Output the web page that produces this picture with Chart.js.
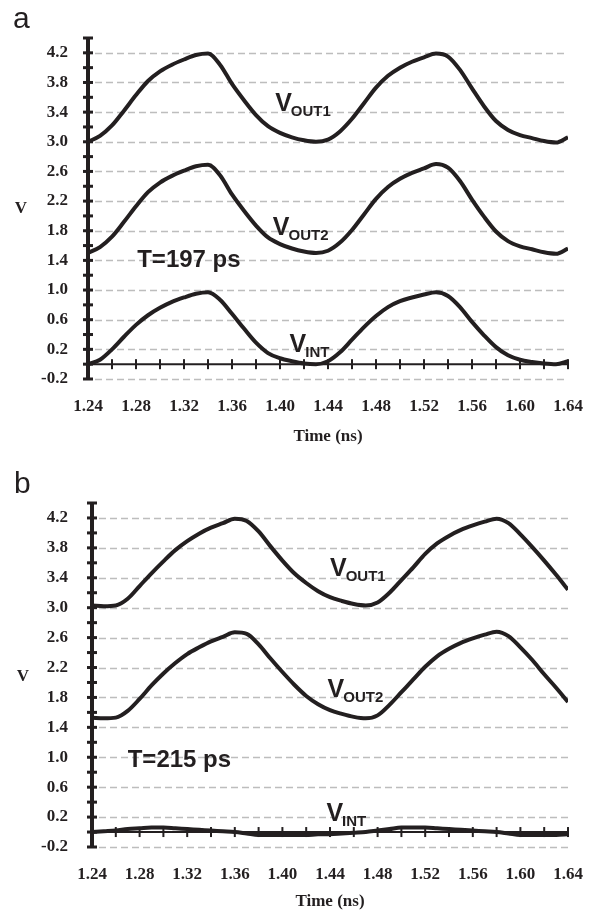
<!DOCTYPE html>
<html>
<head>
<meta charset="utf-8">
<script src="https://cdn.jsdelivr.net/npm/chart.js@4.4.0/dist/chart.umd.min.js"></script>
<style>
  html, body { margin: 0; padding: 0; background: #fff; }
  #wrap { position: relative; width: 596px; height: 913px; }
  canvas { position: absolute; left: 0; }
</style>
</head>
<body>
<div id="wrap">
  <canvas id="chartA" width="596" height="456" style="top:0"></canvas>
  <canvas id="chartB" width="596" height="457" style="top:456px"></canvas>
</div>
<script>
// time axis (ns), read every 0.01 ns
const tA = [1.24,1.25,1.26,1.27,1.28,1.29,1.30,1.31,1.32,1.33,1.34,1.35,1.36,1.37,1.38,1.39,1.40,1.41,1.42,1.43,1.44,
            1.45,1.46,1.47,1.48,1.49,1.50,1.51,1.52,1.53,1.54,1.55,1.56,1.57,1.58,1.59,1.60,1.61,1.62,1.63,1.64];
const tB = tA.slice();

// panel a, T = 197 ps
const vOut1A = [3.00,3.08,3.22,3.42,3.63,3.82,3.95,4.04,4.11,4.17,4.19,4.04,3.78,3.56,3.36,3.21,3.12,3.06,3.02,3.00,3.03,
                3.14,3.31,3.52,3.73,3.89,4.00,4.08,4.14,4.19,4.15,3.97,3.72,3.48,3.28,3.16,3.09,3.05,3.01,2.99,3.06];
const vOut2A = [1.50,1.58,1.72,1.92,2.13,2.32,2.45,2.54,2.61,2.67,2.69,2.55,2.29,2.07,1.87,1.71,1.62,1.56,1.52,1.50,1.53,
                1.64,1.81,2.02,2.23,2.39,2.50,2.58,2.64,2.70,2.65,2.47,2.22,1.99,1.79,1.66,1.59,1.55,1.51,1.49,1.56];
const vIntA  = [0.00,0.06,0.20,0.37,0.53,0.66,0.76,0.84,0.90,0.95,0.97,0.87,0.68,0.48,0.29,0.15,0.08,0.04,0.01,0.00,0.04,
                0.16,0.33,0.50,0.65,0.77,0.85,0.90,0.94,0.97,0.92,0.77,0.57,0.39,0.23,0.12,0.06,0.03,0.01,0.00,0.04];

// panel b, T = 215 ps
const vOut1B = [3.03,3.02,3.03,3.12,3.29,3.46,3.62,3.77,3.89,3.99,4.07,4.13,4.19,4.16,4.02,3.82,3.63,3.46,3.33,3.22,3.14,
                3.09,3.05,3.03,3.07,3.20,3.37,3.54,3.72,3.86,3.96,4.04,4.10,4.15,4.19,4.13,3.98,3.81,3.63,3.44,3.24];
const vOut2B = [1.53,1.52,1.53,1.62,1.78,1.96,2.12,2.26,2.38,2.47,2.55,2.61,2.67,2.65,2.51,2.32,2.14,1.97,1.82,1.71,1.63,
                1.58,1.54,1.52,1.56,1.70,1.87,2.04,2.21,2.35,2.45,2.53,2.59,2.64,2.68,2.62,2.47,2.30,2.11,1.93,1.74];
const vIntB  = [0.00,0.01,0.02,0.04,0.05,0.06,0.06,0.05,0.04,0.03,0.02,0.01,0.00,-0.02,-0.04,-0.04,-0.04,-0.04,-0.04,-0.03,-0.03,
                -0.02,-0.01,0.00,0.02,0.04,0.06,0.06,0.06,0.05,0.04,0.03,0.02,0.01,0.00,-0.02,-0.04,-0.04,-0.04,-0.04,-0.03];

const seriesNames = ['OUT1', 'OUT2', 'INT'];
const periodA = 'T=197 ps';
const periodB = 'T=215 ps';

const INK = '#231f20';
Chart.defaults.font.family = '"Liberation Serif", "Times New Roman", serif';

function pts(t, v) {
  return t.map((x, i) => ({ x: x, y: v[i] }));
}

function isLabelV(v) {
  const k = Math.round((v + 0.2) / 0.2);
  return k % 2 === 0 && v < 4.3;
}

// draws the scope-style axes (dashed grid, thick y axis, x axis at V=0) and the text labels
const scopeAxes = {
  id: 'scopeAxes',
  beforeDatasetsDraw(chart, args, opts) {
    const { ctx, chartArea, scales: { x, y } } = chart;
    const ax = chartArea.left;
    ctx.save();
    // dashed grid, starts a little right of the axis
    ctx.strokeStyle = '#bdbdbd';
    ctx.lineWidth = 1.5;
    ctx.setLineDash([7, 4]);
    y.ticks.forEach(t => {
      if (!isLabelV(t.value)) return;
      const py = Math.round(y.getPixelForValue(t.value)) + 0.5;
      ctx.beginPath();
      ctx.moveTo(ax + 7, py);
      ctx.lineTo(chartArea.right, py);
      ctx.stroke();
    });
    ctx.setLineDash([]);
    ctx.fillStyle = INK;
    ctx.strokeStyle = INK;
    ctx.lineWidth = 4;
    ctx.beginPath();
    ctx.moveTo(ax, y.getPixelForValue(y.max));
    ctx.lineTo(ax, y.getPixelForValue(y.min));
    ctx.stroke();
    y.ticks.forEach(t => {
      const py = y.getPixelForValue(t.value);
      ctx.fillRect(ax - 5, py - 1.5, 10, 3);
    });
    const py0 = y.getPixelForValue(0);
    ctx.lineWidth = 2;
    ctx.beginPath();
    ctx.moveTo(ax, py0);
    ctx.lineTo(chartArea.right, py0);
    ctx.stroke();
    x.ticks.forEach(t => {
      const px = x.getPixelForValue(t.value);
      ctx.fillRect(px - 1, py0 - 5, 2, 10);
    });
    ctx.restore();
  },
  afterDraw(chart, args, opts) {
    const { ctx, scales: { x, y } } = chart;
    ctx.save();
    ctx.fillStyle = INK;
    ctx.textBaseline = 'alphabetic';
    // panel letter
    ctx.font = '30px "Liberation Sans", Arial, sans-serif';
    ctx.fillText(opts.panel, opts.panelPos[0], opts.panelPos[1]);
    // upright y title
    ctx.font = 'bold 17px "Liberation Serif", serif';
    ctx.textAlign = 'center';
    ctx.fillText('V', opts.vPos[0], opts.vPos[1]);
    ctx.textAlign = 'left';
    // curve names with subscripts
    opts.notes.forEach(n => {
      const px = x.getPixelForValue(n.t);
      const py = y.getPixelForValue(n.v);
      ctx.font = 'bold 25px "Liberation Sans", Arial, sans-serif';
      ctx.fillText('V', px, py);
      const w = ctx.measureText('V').width;
      ctx.font = 'bold 15px "Liberation Sans", Arial, sans-serif';
      ctx.fillText(n.sub, px + w - 1, py + 5);
    });
    ctx.font = 'bold 24px "Liberation Sans", Arial, sans-serif';
    ctx.fillText(opts.period.text, x.getPixelForValue(opts.period.t), y.getPixelForValue(opts.period.v));
    ctx.restore();
  }
};

function makeChart(id, t, v1, v2, vi, cfg) {
  const line = (data) => ({
    data: pts(t, data),
    borderColor: INK,
    borderWidth: cfg.lineWidth,
    pointRadius: 0,
    fill: false,
    cubicInterpolationMode: 'monotone'
  });
  return new Chart(document.getElementById(id), {
    type: 'line',
    data: { datasets: [line(v1), line(v2), line(vi)] },
    options: {
      responsive: false,
      animation: false,
      layout: { padding: { top: cfg.top, right: 28, bottom: 0, left: 0 } },
      plugins: {
        legend: { display: false },
        tooltip: { enabled: false },
        scopeAxes: cfg.labels
      },
      scales: {
        x: {
          type: 'linear',
          min: 1.24,
          max: 1.64,
          afterFit: s => { s.height = cfg.xHeight; },
          grid: { display: false },
          border: { display: false },
          ticks: {
            stepSize: 0.02,
            autoSkip: false,
            maxRotation: 0,
            padding: 9,
            color: INK,
            font: { size: 17, weight: 'bold' },
            callback: v => (Math.round((v - 1.24) / 0.02) % 2 === 0 ? v.toFixed(2) : '')
          },
          title: {
            display: true,
            text: 'Time (ns)',
            color: INK,
            font: { size: 17, weight: 'bold' },
            padding: { top: 0, bottom: cfg.titlePad }
          }
        },
        y: {
          min: -0.2,
          max: 4.4,
          afterFit: s => { s.width = cfg.yWidth; },
          grid: { display: false },
          border: { display: false },
          ticks: {
            stepSize: 0.2,
            autoSkip: false,
            padding: cfg.yPad,
            color: INK,
            font: { size: 17, weight: 'bold' },
            callback: v => (isLabelV(v) ? v.toFixed(1) : '')
          }
        }
      }
    },
    plugins: [scopeAxes]
  });
}

makeChart('chartA', tA, vOut1A, vOut2A, vIntA, {
  top: 38, xHeight: 77, yWidth: 88, yPad: 12, titlePad: 9, lineWidth: 4,
  labels: {
    panel: 'a', panelPos: [13, 28], vPos: [21, 213],
    period: { text: periodA, t: 1.281, v: 1.31 },
    notes: [
      { sub: seriesNames[0], t: 1.396, v: 3.42 },
      { sub: seriesNames[1], t: 1.394, v: 1.74 },
      { sub: seriesNames[2], t: 1.408, v: 0.16 }
    ]
  }
});

makeChart('chartB', tB, vOut1B, vOut2B, vIntB, {
  top: 47, xHeight: 66, yWidth: 92, yPad: 16, titlePad: 1, lineWidth: 4,
  labels: {
    panel: 'b', panelPos: [14, 37], vPos: [23, 225],
    period: { text: periodB, t: 1.27, v: 0.87 },
    notes: [
      { sub: seriesNames[0], t: 1.44, v: 3.43 },
      { sub: seriesNames[1], t: 1.438, v: 1.80 },
      { sub: seriesNames[2], t: 1.437, v: 0.15 }
    ]
  }
});
</script>
</body>
</html>
